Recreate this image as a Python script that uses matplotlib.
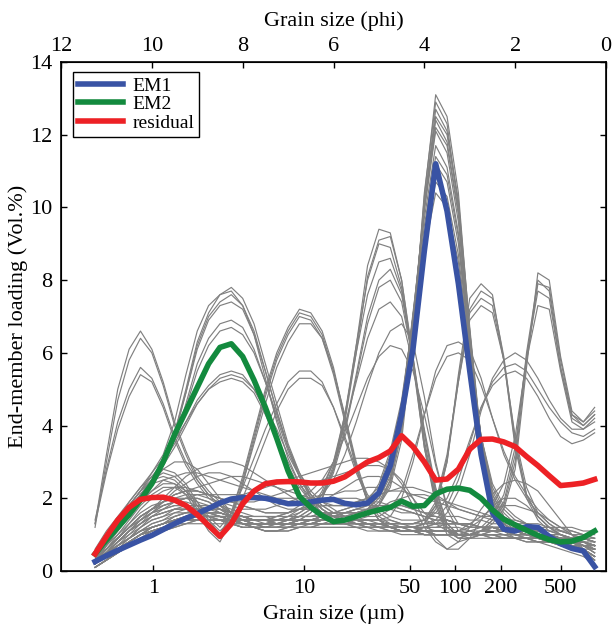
import matplotlib
matplotlib.use('Agg')
import matplotlib.pyplot as plt
from matplotlib.ticker import NullLocator

plt.rcParams['font.family'] = ['Liberation Serif', 'DejaVu Serif']

# grain-size classes (um), 0.25 phi steps from 11.25 phi to 0.25 phi
grain_um = [0.4105, 0.4883, 0.5806, 0.6905, 0.8211, 0.9766, 1.1613, 1.3811, 1.6424, 1.9531,
            2.3227, 2.7621, 3.2848, 3.9063, 4.6453, 5.5243, 6.5695, 7.8125, 9.2907, 11.049,
            13.139, 15.625, 18.581, 22.097, 26.278, 31.25, 37.163, 44.194, 52.556, 62.5,
            74.325, 88.388, 105.11, 125.0, 148.65, 176.78, 210.22, 250.0, 297.30, 353.55,
            420.45, 500.0, 594.60, 707.11, 840.90]

em1 = [0.26, 0.42, 0.57, 0.71, 0.85, 0.98, 1.14, 1.30, 1.45, 1.58, 1.72, 1.87, 1.98, 2.02, 2.02,
       2.0, 1.93, 1.85, 1.86, 1.9, 1.95, 1.97, 1.86, 1.82, 1.87, 2.15, 2.9, 4.3, 6.1, 8.8,
       11.2, 9.9, 7.9, 5.5, 3.2, 1.6, 1.15, 1.1, 1.22, 1.2, 0.95, 0.75, 0.62, 0.55, 0.12]
em2 = [0.47, 0.85, 1.2, 1.55, 1.95, 2.4, 3.0, 3.75, 4.4, 5.05, 5.7, 6.15, 6.25, 5.9, 5.25,
       4.5, 3.65, 2.75, 2.05, 1.75, 1.52, 1.36, 1.4, 1.5, 1.6, 1.68, 1.75, 1.92, 1.78, 1.8,
       2.12, 2.25, 2.28, 2.22, 2.0, 1.68, 1.42, 1.27, 1.12, 0.98, 0.86, 0.8, 0.82, 0.92, 1.1]
residual = [0.47, 0.95, 1.4, 1.75, 1.97, 2.02, 2.03, 1.95, 1.8, 1.55, 1.25, 0.95, 1.3, 1.85, 2.2,
            2.4, 2.45, 2.46, 2.45, 2.42, 2.42, 2.47, 2.59, 2.8, 3.0, 3.12, 3.3, 3.72, 3.42, 3.0,
            2.5, 2.53, 2.8, 3.35, 3.62, 3.63, 3.55, 3.42, 3.15, 2.9, 2.62, 2.35, 2.38, 2.42, 2.52]

# grey: end-member loadings of the individual model runs
grey_e = [
    [0.2,0.4,0.6,0.8,1.0,1.2,1.3,1.5,1.6,1.7,1.7,1.7,1.6,1.5,1.4,1.4,1.3,1.3,1.4,1.4,1.5,1.5,1.5,1.5,1.6,1.8,2.4,3.8,6.6,10.3,13.1,12.5,10.4,6.6,3.4,1.8,1.2,1.0,0.9,0.9,0.8,0.7,0.6,0.5,0.3],
    [0.1,0.3,0.5,0.7,0.9,1.0,1.2,1.3,1.4,1.5,1.5,1.5,1.4,1.3,1.2,1.1,1.1,1.1,1.2,1.2,1.3,1.3,1.3,1.4,1.5,1.8,2.5,4.0,6.8,10.1,12.7,12.1,10.2,6.7,3.6,1.9,1.3,1.1,1.0,1.0,0.9,0.8,0.7,0.6,0.4],
    [0.3,0.6,0.9,1.2,1.5,1.7,1.9,2.1,2.2,2.2,2.1,2.0,1.9,1.8,1.7,1.6,1.6,1.6,1.7,1.7,1.8,1.8,1.8,1.8,1.9,2.0,2.6,4.1,6.9,10.0,12.4,11.8,9.9,6.5,3.6,2.0,1.4,1.1,1.0,1.0,0.9,0.8,0.7,0.6,0.4],
    [0.2,0.5,0.8,1.1,1.4,1.6,1.8,1.9,2.0,2.0,1.9,1.7,1.5,1.3,1.2,1.1,1.1,1.2,1.3,1.4,1.5,1.6,1.7,1.8,1.9,2.1,2.8,4.3,7.0,9.9,12.1,11.5,9.6,6.3,3.5,2.0,1.4,1.2,1.1,1.0,0.9,0.8,0.7,0.6,0.4],
    [0.2,0.4,0.6,0.8,1.0,1.2,1.3,1.5,1.6,1.7,1.7,1.7,1.6,1.5,1.4,1.4,1.3,1.3,1.4,1.4,1.5,1.5,1.5,1.6,1.7,2.1,2.9,4.4,7.1,9.7,11.7,11.1,9.3,6.2,3.6,2.1,1.5,1.3,1.2,1.1,1.0,0.9,0.8,0.6,0.4],
    [0.1,0.3,0.5,0.7,0.9,1.0,1.2,1.3,1.4,1.5,1.5,1.5,1.4,1.3,1.2,1.1,1.1,1.1,1.2,1.2,1.3,1.3,1.4,1.5,1.6,2.2,3.0,4.5,7.0,9.3,11.2,10.7,9.0,6.1,3.7,2.2,1.6,1.3,1.2,1.1,1.0,0.9,0.8,0.7,0.5],
    [0.3,0.6,0.9,1.2,1.5,1.7,1.9,2.1,2.2,2.2,2.1,2.0,1.9,1.8,1.7,1.6,1.6,1.6,1.7,1.7,1.8,1.8,1.8,1.9,2.0,2.3,3.2,4.6,6.9,9.0,10.7,10.3,8.7,6.0,3.7,2.3,1.7,1.4,1.3,1.2,1.0,0.9,0.8,0.7,0.5],
    [0.2,0.5,0.8,1.1,1.4,1.6,1.8,1.9,2.0,2.0,1.9,1.7,1.5,1.3,1.2,1.1,1.1,1.2,1.3,1.4,1.5,1.6,1.6,1.6,1.6,1.8,2.3,3.6,6.4,10.4,12.9,12.3,10.0,6.0,3.0,1.6,1.1,0.9,0.8,0.8,0.7,0.6,0.5,0.4,0.2],
    [0.2,0.4,0.7,0.9,1.2,1.4,1.5,1.7,1.8,1.8,1.8,1.7,1.6,1.5,1.4,1.3,1.3,1.3,1.4,1.4,1.5,1.5,1.6,1.6,1.7,2.0,2.7,4.2,7.0,10.0,12.2,11.7,9.8,6.4,3.5,1.9,1.3,1.1,1.0,1.0,0.9,0.8,0.7,0.6,0.4],
    [0.3,0.5,0.7,0.9,1.1,1.3,1.4,1.6,1.7,1.8,1.8,1.8,1.7,1.6,1.5,1.5,1.4,1.4,1.5,1.5,1.6,1.6,1.6,1.7,1.8,2.2,3.0,4.5,7.0,9.5,11.4,10.9,9.2,6.1,3.6,2.1,1.5,1.3,1.2,1.1,1.0,0.9,0.8,0.6,0.4],
    [0.2,0.4,0.6,0.8,1.0,1.2,1.3,1.4,1.5,1.6,1.6,1.6,1.5,1.5,1.4,1.4,1.4,1.4,1.5,1.5,1.6,1.6,1.7,1.8,1.9,2.4,3.3,4.7,6.9,8.8,10.4,10.0,8.5,5.9,3.7,2.4,1.8,1.5,1.3,1.2,1.1,1.0,0.9,0.7,0.5],
    [0.1,0.3,0.5,0.7,0.9,1.1,1.2,1.4,1.5,1.6,1.6,1.6,1.5,1.4,1.3,1.2,1.2,1.2,1.3,1.3,1.4,1.4,1.4,1.5,1.6,1.9,2.5,3.9,6.7,10.1,12.5,12.0,10.1,6.6,3.5,1.9,1.3,1.0,0.9,0.9,0.8,0.7,0.6,0.5,0.3],
]
grey_d = [
    [0.3,0.6,0.9,1.2,1.4,1.6,1.7,1.8,1.8,1.7,1.6,1.5,1.4,1.3,1.2,1.2,1.2,1.3,1.4,1.6,2.0,2.8,4.2,6.2,8.4,9.4,9.3,8.0,5.8,3.4,1.8,1.0,0.8,0.9,1.0,1.1,1.1,1.0,1.0,0.9,0.9,0.8,0.8,0.7,0.6],
    [0.2,0.5,0.8,1.1,1.3,1.5,1.6,1.7,1.7,1.6,1.5,1.4,1.3,1.2,1.2,1.2,1.3,1.4,1.5,1.7,2.1,2.9,4.3,6.2,8.0,9.0,8.9,7.8,5.7,3.4,1.9,1.1,0.9,0.9,1.0,1.1,1.1,1.1,1.0,1.0,0.9,0.9,0.8,0.7,0.6],
    [0.3,0.7,1.0,1.3,1.6,1.8,1.9,2.0,2.0,1.9,1.8,1.6,1.5,1.4,1.3,1.3,1.3,1.4,1.5,1.7,2.2,3.0,4.3,6.0,7.6,8.5,8.6,7.7,5.8,3.6,2.0,1.2,0.9,1.0,1.1,1.1,1.1,1.0,1.0,0.9,0.9,0.8,0.8,0.7,0.6],
    [0.2,0.5,0.8,1.0,1.2,1.4,1.5,1.6,1.6,1.6,1.5,1.4,1.3,1.2,1.2,1.2,1.3,1.4,1.6,1.8,2.0,2.7,3.8,5.3,6.8,7.8,8.0,7.4,5.8,3.8,2.2,1.3,1.0,1.0,1.1,1.2,1.2,1.1,1.1,1.0,1.0,0.9,0.8,0.8,0.7],
    [0.3,0.6,0.9,1.2,1.5,1.7,1.8,1.9,1.9,1.8,1.7,1.6,1.5,1.4,1.4,1.4,1.5,1.6,1.8,2.0,2.3,3.0,4.0,5.2,6.4,7.2,7.4,7.0,5.7,3.9,2.3,1.3,1.0,1.0,1.1,1.2,1.2,1.2,1.1,1.1,1.0,0.9,0.9,0.8,0.7],
    [0.2,0.5,0.8,1.1,1.3,1.5,1.6,1.7,1.7,1.7,1.6,1.5,1.4,1.4,1.4,1.4,1.5,1.6,1.7,1.9,2.1,2.5,3.2,4.1,5.1,6.0,6.6,6.8,6.3,4.8,3.0,1.7,1.1,1.0,1.1,1.1,1.1,1.1,1.0,1.0,0.9,0.9,0.8,0.8,0.7],
    [0.3,0.6,0.9,1.2,1.5,1.7,1.9,2.0,2.1,2.1,2.0,1.9,1.8,1.7,1.7,1.7,1.8,1.9,2.0,2.2,2.5,3.0,3.7,4.5,5.3,5.9,6.2,6.1,5.5,4.3,2.9,1.8,1.3,1.2,1.2,1.2,1.2,1.1,1.1,1.0,1.0,0.9,0.9,0.8,0.7],
    [0.2,0.5,0.8,1.1,1.3,1.5,1.6,1.7,1.7,1.6,1.5,1.4,1.3,1.2,1.2,1.2,1.2,1.3,1.4,1.6,2.0,2.8,4.1,6.0,8.1,9.1,9.2,8.0,5.9,3.5,1.9,1.1,0.9,0.9,1.0,1.0,1.0,1.0,1.0,0.9,0.9,0.8,0.8,0.7,0.6],
    [0.3,0.6,0.9,1.2,1.4,1.6,1.7,1.8,1.8,1.7,1.6,1.5,1.4,1.3,1.3,1.3,1.4,1.5,1.6,1.8,2.1,2.8,3.9,5.4,7.0,8.0,8.3,7.6,5.9,3.8,2.1,1.2,1.0,1.0,1.1,1.1,1.1,1.1,1.0,1.0,0.9,0.9,0.8,0.8,0.7],
]
grey_c = [
    [0.3,0.8,1.3,1.8,2.2,2.5,2.6,2.5,2.2,1.7,1.2,0.9,1.6,2.6,3.8,5.0,6.0,6.7,7.2,7.1,6.6,5.6,4.2,2.9,1.9,1.4,1.2,1.1,1.1,1.2,1.3,1.3,1.3,1.2,1.2,1.1,1.1,1.0,1.0,1.0,0.9,0.9,0.8,0.8,0.7],
    [0.2,0.7,1.2,1.7,2.1,2.4,2.5,2.4,2.1,1.6,1.1,0.8,1.4,2.4,3.6,4.8,5.8,6.5,7.0,6.9,6.4,5.4,4.1,2.8,1.9,1.4,1.2,1.2,1.2,1.3,1.3,1.4,1.3,1.3,1.2,1.2,1.1,1.1,1.0,1.0,1.0,0.9,0.9,0.8,0.7],
    [0.4,0.9,1.4,1.9,2.3,2.6,2.8,2.7,2.4,1.9,1.4,1.0,1.5,2.4,3.5,4.6,5.6,6.3,6.8,6.8,6.4,5.5,4.3,3.0,2.0,1.5,1.3,1.2,1.2,1.2,1.2,1.2,1.2,1.1,1.1,1.1,1.0,1.0,1.0,0.9,0.9,0.9,0.8,0.8,0.7],
    [0.3,0.7,1.1,1.5,1.9,2.2,2.4,2.4,2.2,1.9,1.5,1.2,1.6,2.3,3.1,3.9,4.6,5.2,5.5,5.5,5.2,4.5,3.6,2.7,2.0,1.6,1.4,1.3,1.3,1.3,1.3,1.3,1.3,1.2,1.2,1.2,1.1,1.1,1.1,1.0,1.0,1.0,0.9,0.9,0.8],
    [0.2,0.6,1.0,1.4,1.8,2.1,2.3,2.3,2.1,1.8,1.4,1.1,1.4,2.0,2.8,3.6,4.4,5.0,5.3,5.3,5.1,4.5,3.7,2.8,2.1,1.7,1.5,1.4,1.4,1.4,1.3,1.3,1.3,1.3,1.2,1.2,1.2,1.1,1.1,1.1,1.0,1.0,0.9,0.9,0.8],
    [0.3,0.8,1.3,1.8,2.2,2.5,2.7,2.6,2.3,1.8,1.3,1.0,1.6,2.5,3.7,4.9,5.9,6.6,7.1,7.0,6.5,5.5,4.2,2.9,1.9,1.4,1.2,1.1,1.1,1.2,1.2,1.3,1.3,1.2,1.2,1.1,1.1,1.0,1.0,1.0,0.9,0.9,0.8,0.8,0.7],
]
grey_b = [
    [0.5,0.9,1.3,1.7,2.1,2.5,3.0,3.8,5.0,6.3,7.1,7.6,7.8,7.5,6.8,5.7,4.6,3.5,2.7,2.1,1.7,1.5,1.3,1.2,1.2,1.1,1.1,1.1,1.1,1.0,1.0,1.0,1.0,1.0,1.0,1.0,0.9,0.9,0.9,0.8,0.8,0.8,0.7,0.7,0.6],
    [0.4,0.8,1.2,1.6,2.0,2.4,2.9,3.7,4.9,6.2,7.0,7.4,7.6,7.3,6.6,5.5,4.4,3.4,2.6,2.0,1.7,1.5,1.4,1.3,1.2,1.2,1.2,1.1,1.1,1.1,1.0,1.0,1.0,1.0,1.0,0.9,0.9,0.9,0.9,0.8,0.8,0.8,0.7,0.7,0.6],
    [0.5,0.9,1.4,1.8,2.2,2.7,3.2,4.1,5.4,6.6,7.3,7.6,7.7,7.3,6.5,5.3,4.1,3.1,2.4,1.9,1.6,1.4,1.3,1.2,1.1,1.1,1.1,1.0,1.0,1.0,1.0,1.0,1.0,0.9,0.9,0.9,0.9,0.9,0.8,0.8,0.8,0.7,0.7,0.6,0.6],
    [0.4,0.8,1.2,1.6,2.0,2.4,2.9,3.6,4.6,5.7,6.4,6.8,6.9,6.7,6.1,5.2,4.2,3.3,2.6,2.1,1.8,1.6,1.5,1.4,1.3,1.3,1.2,1.2,1.2,1.1,1.1,1.1,1.1,1.0,1.0,1.0,1.0,0.9,0.9,0.9,0.8,0.8,0.8,0.7,0.7],
    [0.5,0.9,1.3,1.7,2.1,2.5,3.0,3.6,4.5,5.5,6.2,6.6,6.7,6.5,6.0,5.2,4.3,3.4,2.7,2.2,1.9,1.7,1.5,1.4,1.3,1.3,1.2,1.2,1.2,1.1,1.1,1.1,1.0,1.0,1.0,1.0,0.9,0.9,0.9,0.9,0.8,0.8,0.8,0.7,0.7],
    [0.5,1.0,1.4,1.8,2.2,2.6,3.0,3.5,4.1,4.7,5.1,5.4,5.5,5.4,5.0,4.4,3.7,3.0,2.4,2.0,1.7,1.5,1.4,1.3,1.3,1.2,1.2,1.2,1.2,1.1,1.1,1.1,1.1,1.0,1.0,1.0,1.0,0.9,0.9,0.9,0.9,0.8,0.8,0.8,0.7],
    [0.4,0.9,1.3,1.7,2.1,2.5,2.9,3.4,4.0,4.6,5.0,5.3,5.4,5.3,5.0,4.5,3.9,3.2,2.6,2.1,1.8,1.6,1.5,1.4,1.3,1.3,1.3,1.2,1.2,1.2,1.1,1.1,1.1,1.1,1.0,1.0,1.0,1.0,0.9,0.9,0.9,0.8,0.8,0.8,0.7],
    [0.6,1.1,1.5,1.9,2.3,2.7,3.1,3.6,4.1,4.6,5.0,5.2,5.3,5.2,4.9,4.3,3.6,2.9,2.3,1.9,1.6,1.5,1.4,1.3,1.3,1.2,1.2,1.2,1.1,1.1,1.1,1.1,1.0,1.0,1.0,1.0,0.9,0.9,0.9,0.9,0.8,0.8,0.8,0.7,0.7],
    [0.5,0.9,1.3,1.7,2.1,2.5,3.0,3.8,4.9,6.1,6.9,7.3,7.4,7.2,6.5,5.5,4.4,3.4,2.6,2.0,1.7,1.5,1.4,1.3,1.2,1.2,1.1,1.1,1.1,1.0,1.0,1.0,1.0,1.0,1.0,0.9,0.9,0.9,0.9,0.8,0.8,0.8,0.7,0.7,0.6],
]
grey_a = [
    [1.3,3.2,5.0,6.1,6.6,6.1,5.2,4.1,3.3,2.6,2.2,1.9,1.6,1.4,1.3,1.2,1.2,1.2,1.2,1.3,1.3,1.4,1.5,1.6,1.7,1.8,1.8,1.8,1.7,1.6,1.5,1.4,1.3,1.3,1.2,1.2,1.1,1.1,1.0,1.0,0.9,0.8,0.8,0.7,0.6],
    [1.2,3.0,4.7,5.8,6.4,6.0,5.1,4.0,3.2,2.5,2.1,1.8,1.5,1.3,1.2,1.2,1.2,1.2,1.3,1.3,1.4,1.5,1.6,1.7,1.8,1.8,1.8,1.7,1.6,1.5,1.4,1.4,1.3,1.3,1.2,1.2,1.1,1.1,1.0,1.0,0.9,0.9,0.8,0.7,0.6],
    [1.4,2.8,4.1,5.0,5.6,5.3,4.6,3.7,3.0,2.5,2.1,1.8,1.6,1.5,1.4,1.4,1.4,1.4,1.4,1.4,1.5,1.5,1.6,1.6,1.7,1.7,1.7,1.6,1.6,1.5,1.4,1.4,1.3,1.3,1.2,1.2,1.1,1.1,1.0,1.0,1.0,0.9,0.8,0.8,0.7],
    [1.3,2.7,3.9,4.8,5.4,5.2,4.5,3.6,2.9,2.4,2.0,1.8,1.6,1.5,1.4,1.4,1.3,1.3,1.4,1.4,1.5,1.5,1.6,1.7,1.7,1.8,1.8,1.7,1.6,1.5,1.5,1.4,1.3,1.3,1.2,1.2,1.1,1.1,1.1,1.0,1.0,0.9,0.9,0.8,0.7],
]
grey_h = [
    [0.2,0.4,0.6,0.8,1.0,1.1,1.2,1.3,1.4,1.5,1.5,1.5,1.4,1.4,1.3,1.3,1.3,1.3,1.3,1.4,1.4,1.4,1.4,1.4,1.3,1.3,1.2,1.2,1.1,1.1,1.0,1.0,1.0,1.0,1.1,1.3,1.7,2.8,5.6,8.2,8.0,5.9,4.4,4.1,4.4],
    [0.1,0.3,0.5,0.7,0.9,1.0,1.1,1.2,1.3,1.4,1.4,1.4,1.4,1.3,1.3,1.3,1.3,1.3,1.3,1.3,1.4,1.4,1.4,1.3,1.3,1.2,1.2,1.1,1.1,1.0,1.0,1.0,1.0,1.0,1.1,1.4,1.9,3.2,6.0,8.0,7.7,5.6,4.2,4.0,4.3],
    [0.2,0.5,0.7,0.9,1.1,1.2,1.3,1.4,1.5,1.5,1.5,1.5,1.5,1.4,1.4,1.4,1.4,1.4,1.4,1.4,1.4,1.4,1.4,1.3,1.3,1.2,1.2,1.1,1.1,1.1,1.0,1.0,1.0,1.1,1.2,1.5,2.1,3.4,5.9,7.7,7.5,5.6,4.3,4.1,4.5],
    [0.2,0.4,0.6,0.8,1.0,1.1,1.2,1.3,1.4,1.4,1.4,1.4,1.4,1.3,1.3,1.3,1.3,1.3,1.3,1.3,1.3,1.3,1.3,1.3,1.2,1.2,1.1,1.1,1.1,1.0,1.0,1.0,1.1,1.2,1.4,1.8,2.4,3.7,5.8,7.3,7.2,5.5,4.1,3.9,4.2],
    [0.2,0.4,0.6,0.8,1.0,1.1,1.2,1.3,1.3,1.4,1.4,1.4,1.3,1.3,1.3,1.3,1.3,1.3,1.3,1.3,1.3,1.3,1.3,1.3,1.3,1.2,1.2,1.1,1.1,1.0,1.0,1.0,1.0,1.0,1.1,1.4,1.8,3.0,5.8,7.9,7.8,5.8,4.3,4.0,4.3],
]
grey_f = [
    [0.2,0.4,0.6,0.8,1.0,1.2,1.3,1.4,1.5,1.5,1.5,1.5,1.4,1.4,1.3,1.3,1.3,1.3,1.3,1.4,1.4,1.4,1.4,1.4,1.4,1.3,1.3,1.3,1.2,1.3,1.7,3.0,5.4,7.5,7.9,7.6,5.8,3.4,2.0,1.4,1.1,1.0,0.9,0.9,0.8],
    [0.1,0.3,0.5,0.7,0.9,1.1,1.2,1.3,1.4,1.4,1.4,1.4,1.4,1.3,1.3,1.3,1.3,1.3,1.3,1.3,1.4,1.4,1.4,1.4,1.4,1.4,1.3,1.3,1.3,1.4,1.8,3.1,5.3,7.2,7.7,7.5,5.9,3.6,2.1,1.5,1.2,1.0,0.9,0.9,0.8],
    [0.2,0.5,0.7,0.9,1.1,1.2,1.3,1.4,1.5,1.5,1.5,1.5,1.5,1.4,1.4,1.4,1.4,1.4,1.4,1.4,1.4,1.4,1.4,1.4,1.4,1.4,1.4,1.3,1.3,1.4,1.9,3.2,5.2,6.9,7.3,7.1,5.8,3.7,2.3,1.6,1.3,1.1,1.0,0.9,0.8],
    [0.2,0.4,0.6,0.8,1.0,1.1,1.2,1.3,1.4,1.4,1.4,1.4,1.4,1.3,1.3,1.3,1.3,1.3,1.3,1.3,1.3,1.3,1.3,1.3,1.3,1.3,1.3,1.2,1.2,1.3,1.8,3.0,5.2,7.1,7.5,7.3,5.8,3.5,2.1,1.5,1.2,1.0,0.9,0.9,0.8],
]
grey_k = [
    [0.2,0.4,0.6,0.8,1.0,1.2,1.3,1.4,1.5,1.6,1.6,1.6,1.5,1.5,1.4,1.4,1.4,1.4,1.4,1.4,1.4,1.4,1.4,1.4,1.4,1.4,1.5,2.0,3.0,4.3,5.5,6.2,6.3,6.1,5.3,4.2,3.2,2.5,2.0,1.6,1.3,1.1,1.0,0.9,0.9],
    [0.3,0.5,0.7,0.9,1.1,1.3,1.4,1.5,1.6,1.6,1.6,1.6,1.5,1.5,1.5,1.5,1.5,1.5,1.5,1.5,1.5,1.5,1.5,1.5,1.5,1.5,1.7,2.2,3.2,4.3,5.3,5.9,6.0,5.8,5.1,4.2,3.3,2.6,2.1,1.7,1.4,1.2,1.1,1.0,0.9],
]
grey_g = [
    [0.2,0.4,0.6,0.8,1.0,1.1,1.2,1.3,1.4,1.4,1.4,1.4,1.3,1.3,1.3,1.2,1.2,1.2,1.2,1.2,1.2,1.2,1.2,1.2,1.2,1.2,1.2,1.2,1.2,1.2,1.3,1.6,2.2,3.2,4.4,5.3,5.8,6.0,5.8,5.3,4.7,4.2,3.9,3.9,4.1],
    [0.1,0.3,0.5,0.7,0.9,1.0,1.1,1.2,1.3,1.3,1.3,1.3,1.3,1.2,1.2,1.2,1.2,1.2,1.2,1.2,1.2,1.2,1.2,1.2,1.2,1.2,1.2,1.2,1.2,1.3,1.4,1.8,2.5,3.5,4.5,5.2,5.6,5.7,5.5,5.0,4.5,4.1,3.8,3.7,3.9],
    [0.2,0.5,0.7,0.9,1.1,1.2,1.3,1.4,1.4,1.4,1.4,1.4,1.4,1.3,1.3,1.3,1.3,1.3,1.3,1.3,1.3,1.3,1.3,1.3,1.3,1.3,1.3,1.3,1.3,1.4,1.6,2.0,2.7,3.6,4.5,5.1,5.4,5.5,5.3,4.8,4.2,3.7,3.5,3.6,3.8],
]
grey_l = [
    [0.3,0.7,1.1,1.5,1.9,2.2,2.5,2.6,2.7,2.7,2.6,2.5,2.4,2.3,2.2,2.1,2.0,2.0,2.0,2.0,2.1,2.1,2.2,2.2,2.3,2.3,2.2,2.2,2.1,2.0,1.9,1.8,1.7,1.6,1.5,1.4,1.4,1.3,1.3,1.2,1.2,1.1,1.1,1.0,1.0],
    [0.2,0.5,0.8,1.1,1.4,1.7,2.0,2.3,2.6,2.8,2.9,3.0,3.0,2.9,2.7,2.5,2.3,2.1,1.9,1.7,1.6,1.5,1.5,1.5,1.6,1.7,1.9,2.0,2.1,2.1,2.0,1.9,1.8,1.7,1.6,1.5,1.4,1.3,1.2,1.1,1.0,0.9,0.9,0.8,0.8],
    [0.4,0.8,1.2,1.6,2.0,2.4,2.8,3.0,3.0,2.8,2.4,2.0,1.6,1.4,1.3,1.3,1.4,1.5,1.7,1.8,1.9,2.0,2.0,2.0,1.9,1.9,1.8,1.8,1.7,1.6,1.6,1.5,1.5,1.4,1.4,1.3,1.3,1.3,1.2,1.2,1.1,1.1,1.0,1.0,0.9],
    [0.3,0.6,0.9,1.2,1.5,1.7,1.9,2.1,2.2,2.3,2.4,2.5,2.6,2.6,2.5,2.4,2.3,2.2,2.1,2.0,1.9,1.8,1.8,1.9,2.0,2.1,2.2,2.3,2.3,2.2,2.1,1.9,1.7,1.6,1.5,1.5,1.4,1.4,1.3,1.3,1.2,1.2,1.2,1.1,1.1],
    [0.2,0.5,0.9,1.3,1.7,2.0,2.2,2.3,2.3,2.2,2.1,2.0,1.9,1.9,1.9,2.0,2.1,2.2,2.3,2.4,2.5,2.6,2.7,2.8,2.9,2.9,2.8,2.5,2.0,1.4,0.9,0.6,0.6,0.9,1.4,1.8,2.0,2.0,1.8,1.5,1.2,1.0,0.8,0.6,0.4],
    [0.1,0.3,0.6,0.9,1.2,1.5,1.7,1.9,2.0,2.1,2.1,2.1,2.1,2.1,2.2,2.3,2.4,2.5,2.6,2.7,2.8,2.9,3.0,3.1,3.1,3.0,2.8,2.4,1.8,1.2,0.8,0.6,0.8,1.2,1.7,2.1,2.4,2.5,2.4,2.2,1.8,1.4,1.0,0.6,0.3],
    [0.2,0.4,0.7,1.0,1.3,1.6,1.9,2.2,2.4,2.6,2.7,2.7,2.6,2.4,2.2,2.0,1.8,1.7,1.7,1.8,1.9,2.1,2.3,2.5,2.6,2.6,2.5,2.3,2.0,1.6,1.3,1.1,1.1,1.3,1.5,1.7,1.8,1.8,1.7,1.6,1.4,1.2,1.0,0.8,0.6],
]

phi_ticks = [12, 10, 8, 6, 4, 2, 0]
um_ticks = [1, 10, 50, 100, 200, 500]
y_ticks = [0, 2, 4, 6, 8, 10, 12, 14]

fig = plt.figure(figsize=(6.12, 6.27), dpi=100)
ax = fig.add_axes([61 / 612, 56 / 627, 545 / 612, 509 / 627])

for group in (grey_l, grey_a, grey_b, grey_c, grey_d, grey_e, grey_k, grey_f, grey_g, grey_h):
    for curve in group:
        ax.plot(grain_um, curve, color='#808080', lw=0.85, zorder=1)

ax.plot(grain_um, em1, color='#3953a4', lw=4, label='EM1', zorder=3)
ax.plot(grain_um, em2, color='#138a3e', lw=4, label='EM2', zorder=3)
ax.plot(grain_um, residual, color='#ed2125', lw=4, label='residual', zorder=4)

ax.set_xscale('log')
ax.set_xlim(0.244140625, 1000)
ax.set_ylim(0, 14)
ax.set_xticks(um_ticks)
ax.set_xticklabels([str(t) for t in um_ticks])
ax.xaxis.set_minor_locator(NullLocator())
ax.set_yticks(y_ticks)
ax.tick_params(axis='both', direction='in', length=4, width=1, labelsize=16, pad=6)
ax.tick_params(axis='y', right=True)
for s in ax.spines.values():
    s.set_linewidth(1.2)
ax.set_xlabel('Grain size (µm)', fontsize=16, labelpad=4)
ax.set_ylabel('End-member loading (Vol.%)', fontsize=16, labelpad=2)

ax2 = ax.twiny()
ax2.set_xlim(12, 0)
ax2.set_xticks(phi_ticks)
ax2.set_xticklabels([str(t) for t in phi_ticks])
ax2.tick_params(axis='x', direction='in', length=4, width=1, labelsize=16, pad=4)
ax2.set_xlabel('Grain size (phi)', fontsize=16, labelpad=8)

leg = ax.legend(loc='upper left', bbox_to_anchor=(0.022, 0.98), fontsize=14,
                frameon=True, fancybox=False, edgecolor='black', framealpha=1,
                handlelength=2.3, labelspacing=0.05, borderpad=0.25,
                handletextpad=0.5, borderaxespad=0)
leg.get_frame().set_linewidth(1.0)

fig.savefig('out.png', dpi=100)
